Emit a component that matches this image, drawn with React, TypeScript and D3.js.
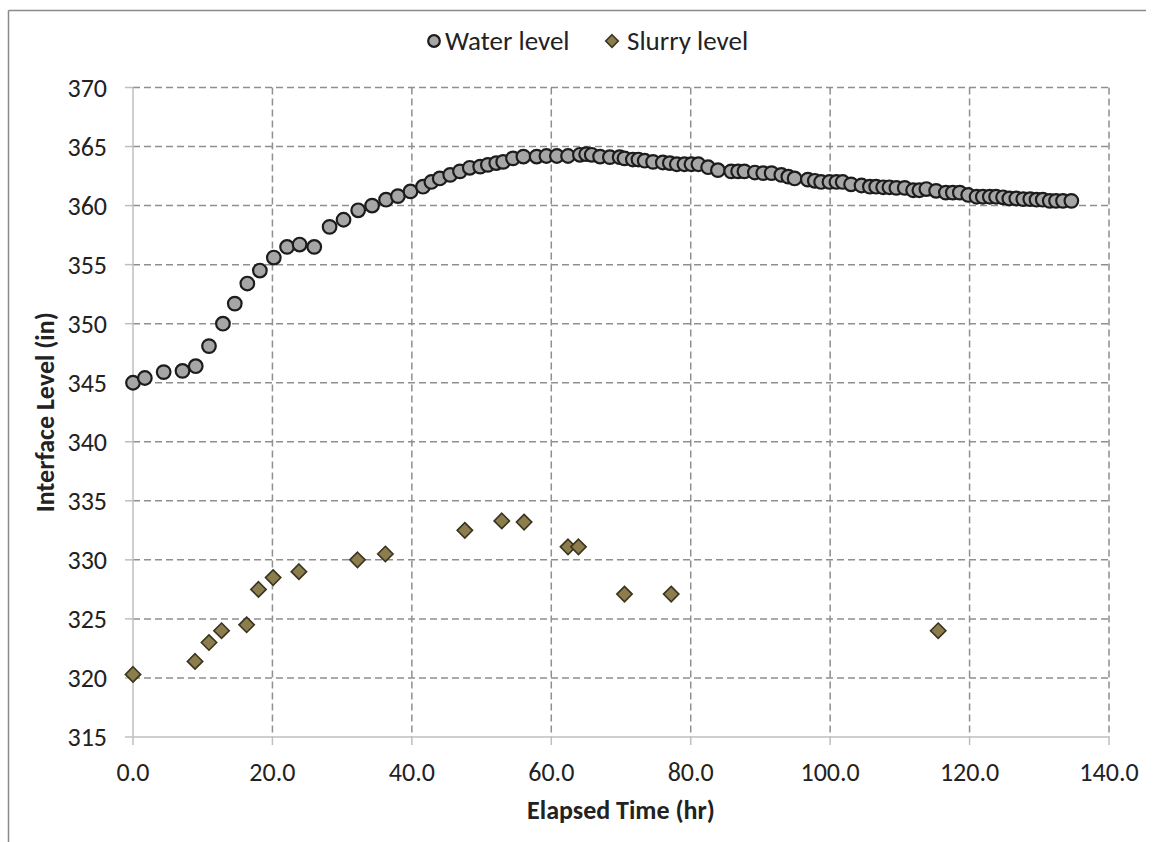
import React from "react";
import * as d3 from "d3";

const waterTime = [0, 1.7, 4.4, 7.1, 9.0, 10.9, 12.9, 14.6, 16.4, 18.2, 20.2, 22.1, 23.9, 26.0, 28.2, 30.2, 32.3, 34.3, 36.3, 38.0, 39.8, 41.6, 42.8, 44.0, 45.5, 46.9, 48.3, 49.8, 50.9, 52.1, 53.1, 54.5, 56.0, 57.9, 59.3, 60.8, 62.4, 64.1, 65.0, 65.8, 67.0, 68.4, 69.8, 70.5, 71.7, 72.5, 73.4, 74.6, 76.0, 77.0, 78.0, 79.1, 80.1, 81.1, 82.5, 83.9, 85.8, 86.8, 87.7, 89.2, 90.4, 91.6, 93.0, 94.0, 94.9, 96.8, 97.8, 98.7, 99.9, 100.9, 101.8, 103.0, 104.5, 105.7, 106.6, 107.6, 108.5, 109.5, 110.7, 111.9, 112.8, 113.8, 115.2, 116.6, 117.6, 118.6, 119.8, 121.0, 121.9, 122.9, 123.8, 124.8, 125.7, 126.7, 127.7, 128.7, 129.6, 130.5, 131.5, 132.4, 133.4, 134.6];
const waterLevel = [345.0, 345.4, 345.9, 346.0, 346.4, 348.1, 350.0, 351.7, 353.4, 354.5, 355.6, 356.5, 356.7, 356.5, 358.2, 358.8, 359.6, 360.0, 360.5, 360.8, 361.2, 361.6, 362.0, 362.3, 362.6, 362.9, 363.2, 363.3, 363.45, 363.6, 363.7, 364.0, 364.15, 364.15, 364.2, 364.2, 364.2, 364.3, 364.35, 364.3, 364.15, 364.1, 364.1, 364.0, 363.9, 363.9, 363.8, 363.7, 363.65, 363.6, 363.5, 363.5, 363.5, 363.5, 363.25, 363.0, 362.9, 362.9, 362.9, 362.8, 362.75, 362.75, 362.6, 362.45, 362.3, 362.2, 362.1, 362.0, 362.0, 362.0, 362.0, 361.8, 361.7, 361.6, 361.6, 361.55, 361.55, 361.5, 361.5, 361.3, 361.3, 361.4, 361.25, 361.1, 361.1, 361.1, 360.9, 360.75, 360.75, 360.75, 360.75, 360.7, 360.6, 360.6, 360.55, 360.55, 360.5, 360.5, 360.4, 360.4, 360.4, 360.4];

const slurryTime = [0, 8.9, 10.9, 12.7, 16.3, 18.0, 20.1, 23.8, 32.2, 36.2, 47.6, 52.9, 56.1, 62.4, 63.9, 70.5, 77.2, 115.5];
const slurryLevel = [320.3, 321.4, 323.0, 324.0, 324.5, 327.5, 328.5, 329.0, 330.0, 330.5, 332.5, 333.3, 333.2, 331.1, 331.1, 327.1, 327.1, 324.0];

const xTicks = [0, 20, 40, 60, 80, 100, 120, 140];
const yTicks = [315, 320, 325, 330, 335, 340, 345, 350, 355, 360, 365, 370];

const seriesNames = ["Water level", "Slurry level"];

const W = 1154;
const H = 842;
const left = 133;
const right = 1109;
const top = 87.5;
const bottom = 737;
const FONT = "Carlito, Calibri, Lato, 'Open Sans', sans-serif";

export default function App() {
  const x = d3.scaleLinear().domain([0, 140]).range([left, right]);
  const y = d3.scaleLinear().domain([315, 370]).range([bottom, top]);
  const diamond = d3.symbol().type(d3.symbolDiamond2).size(150)();

  return (
    <svg width={W} height={H} style={{ position: "absolute", left: 0, top: 0, background: "#fff" }} fontFamily={FONT}>
      <rect x={0} y={0} width={W} height={H} fill="#fff" />
      {/* outer frame */}
      <line x1={8.5} y1={10.5} x2={1146} y2={10.5} stroke="#8a8a8a" strokeWidth={1.5} />
      <line x1={8.5} y1={10.5} x2={8.5} y2={H} stroke="#8a8a8a" strokeWidth={1.5} />

      {/* horizontal gridlines */}
      {yTicks.filter((t) => t !== 315).map((t) => (
        <line key={"gy" + t} x1={left} x2={right} y1={y(t)} y2={y(t)} stroke="#8f8f8f" strokeWidth={1.5} strokeDasharray="7,4" />
      ))}
      {/* vertical gridlines */}
      {xTicks.filter((t) => t !== 0).map((t) => (
        <line key={"gx" + t} x1={x(t)} x2={x(t)} y1={top} y2={bottom} stroke="#8f8f8f" strokeWidth={1.5} strokeDasharray="7,4" />
      ))}

      {/* axes */}
      <line x1={left} x2={left} y1={top} y2={bottom} stroke="#bfbfbf" strokeWidth={1.5} />
      <line x1={left} x2={right} y1={bottom} y2={bottom} stroke="#bfbfbf" strokeWidth={1.5} />
      {yTicks.map((t) => (
        <line key={"ty" + t} x1={left - 8} x2={left} y1={y(t)} y2={y(t)} stroke="#bfbfbf" strokeWidth={1.5} />
      ))}
      {xTicks.map((t) => (
        <line key={"tx" + t} x1={x(t)} x2={x(t)} y1={bottom} y2={bottom + 8} stroke="#bfbfbf" strokeWidth={1.5} />
      ))}

      {/* tick labels */}
      {yTicks.map((t) => (
        <text key={"ly" + t} x={107} y={y(t)} dy="0.35em" textAnchor="end" fontSize={26} fill="#222">
          {t}
        </text>
      ))}
      {xTicks.map((t) => (
        <text key={"lx" + t} x={x(t)} y={772} dy="0.35em" textAnchor="middle" fontSize={26} fill="#222">
          {t.toFixed(1)}
        </text>
      ))}

      {/* axis titles */}
      <text x={(left + right) / 2} y={810} dy="0.35em" textAnchor="middle" fontSize={26} fontWeight="bold" fill="#222">
        Elapsed Time (hr)
      </text>
      <text transform={`translate(45,${(top + bottom) / 2}) rotate(-90)`} dy="0.35em" textAnchor="middle" fontSize={26} fontWeight="bold" fill="#222">
        Interface Level (in)
      </text>

      {/* water series */}
      {waterTime.map((t, i) => (
        <circle key={"w" + i} cx={x(t)} cy={y(waterLevel[i])} r={6.8} fill="#a6a6a6" stroke="#1c1c1c" strokeWidth={2.2} />
      ))}
      {/* slurry series */}
      {slurryTime.map((t, i) => (
        <path key={"s" + i} d={diamond} transform={`translate(${x(t)},${y(slurryLevel[i])})`} fill="#8c7e4c" stroke="#3a3320" strokeWidth={1.6} />
      ))}

      {/* legend */}
      <circle cx={434} cy={41} r={5.8} fill="#a6a6a6" stroke="#1c1c1c" strokeWidth={2.2} />
      <text x={445} y={41} dy="0.35em" fontSize={27} fill="#222">{seriesNames[0]}</text>
      <path d={d3.symbol().type(d3.symbolDiamond2).size(100)()} transform="translate(612,41)" fill="#8c7e4c" stroke="#3a3320" strokeWidth={1.6} />
      <text x={627} y={41} dy="0.35em" fontSize={27} fill="#222">{seriesNames[1]}</text>
    </svg>
  );
}
